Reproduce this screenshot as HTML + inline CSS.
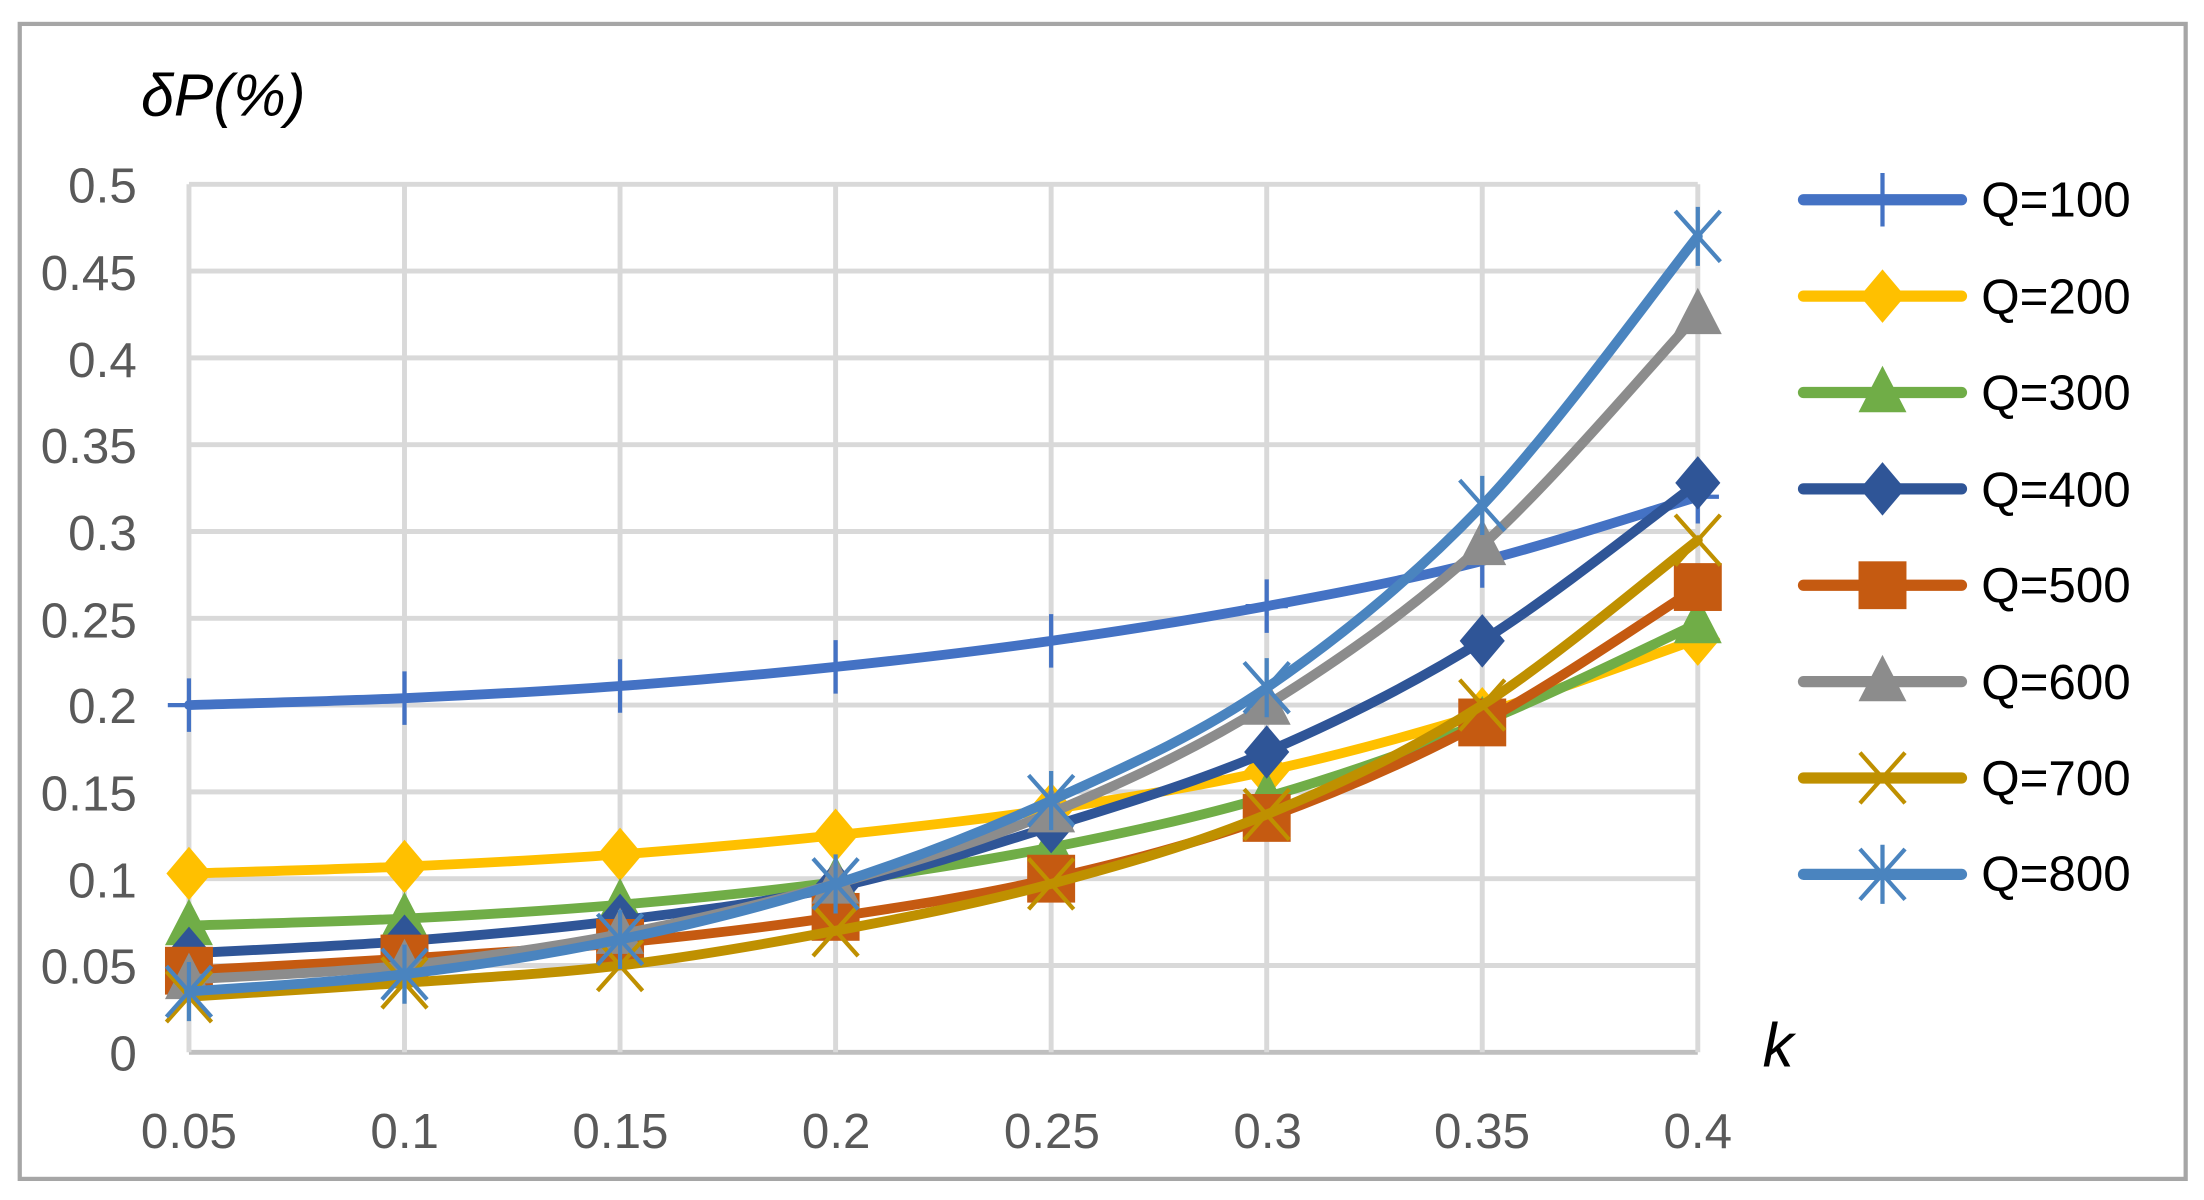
<!DOCTYPE html>
<html><head><meta charset="utf-8"><style>
html,body{margin:0;padding:0;background:#fff;}
svg{display:block;}
text{font-family:"Liberation Sans",sans-serif;fill:#595959;}
</style></head><body>
<svg id="s" width="2204" height="1200" viewBox="0 0 1563 853" preserveAspectRatio="none">
<rect x="14" y="17" width="1536" height="821" fill="#fff" stroke="#a6a6a6" stroke-width="3"/>
<g id="grid"></g>
<g font-size="35" text-anchor="end">
<text x="97" y="144">0.5</text>
<text x="97" y="206">0.45</text>
<text x="97" y="268">0.4</text>
<text x="97" y="329">0.35</text>
<text x="97" y="391">0.3</text>
<text x="97" y="453">0.25</text>
<text x="97" y="514">0.2</text>
<text x="97" y="576">0.15</text>
<text x="97" y="638">0.1</text>
<text x="97" y="699">0.05</text>
<text x="97" y="761">0</text>
</g>
<g font-size="35" text-anchor="middle">
<text x="134" y="816">0.05</text>
<text x="287" y="816">0.1</text>
<text x="440" y="816">0.15</text>
<text x="593" y="816">0.2</text>
<text x="746" y="816">0.25</text>
<text x="899" y="816">0.3</text>
<text x="1051" y="816">0.35</text>
<text x="1204" y="816">0.4</text>
</g>
<text x="100" y="82" font-size="42" font-style="italic" style="fill:#000">δP(%)</text>
<text x="1250" y="758" font-size="44" font-style="italic" style="fill:#000">k</text>
<g id="series"></g>
<g font-size="35">
<text x="1405" y="154" style="fill:#000">Q=100</text>
<text x="1405" y="223" style="fill:#000">Q=200</text>
<text x="1405" y="291" style="fill:#000">Q=300</text>
<text x="1405" y="360" style="fill:#000">Q=400</text>
<text x="1405" y="428" style="fill:#000">Q=500</text>
<text x="1405" y="497" style="fill:#000">Q=600</text>
<text x="1405" y="565" style="fill:#000">Q=700</text>
<text x="1405" y="633" style="fill:#000">Q=800</text>
</g>
</svg>
<script>
var NS="http://www.w3.org/2000/svg";
function el(p,t,a){var e=document.createElementNS(NS,t);for(var k in a)e.setAttribute(k,a[k]);p.appendChild(e);return e;}
var g=document.getElementById('grid'),sg=document.getElementById('series');
var X=function(i){return 134+i*152.86;},Y=function(v){return 748-v*1234;};
for(var i=0;i<=10;i++)el(g,'line',{x1:134,x2:1204,y1:Y(i*0.05),y2:Y(i*0.05),stroke:i==0?'#bfbfbf':'#d9d9d9','stroke-width':3.5});
for(var i=0;i<8;i++)el(g,'line',{x1:X(i),x2:X(i),y1:Y(0.5),y2:Y(0),stroke:'#d9d9d9','stroke-width':3.5});
var S=[
['#4472C4','plus',[0.2,0.204,0.211,0.222,0.237,0.257,0.283,0.32]],
['#FFC000','dia',[0.103,0.107,0.114,0.125,0.14,0.162,0.195,0.238]],
['#70AD47','tri',[0.073,0.077,0.085,0.098,0.118,0.147,0.19,0.247]],
['#2F5597','dia',[0.057,0.064,0.076,0.095,0.13,0.173,0.237,0.328]],
['#C55A11','sq',[0.047,0.054,0.063,0.078,0.1,0.135,0.19,0.268]],
['#8C8C8C','tri',[0.042,0.05,0.068,0.097,0.138,0.2,0.292,0.425]],
['#BF9000','x',[0.032,0.04,0.05,0.07,0.097,0.137,0.2,0.295]],
['#4A84BF','star',[0.035,0.045,0.065,0.097,0.145,0.21,0.315,0.47]]];
function marker(p,t,c,x,y){
 if(t=='plus'){el(p,'line',{x1:x,x2:x,y1:y-19,y2:y+19,stroke:c,'stroke-width':3});el(p,'line',{x1:x-15,x2:x+15,y1:y,y2:y,stroke:c,'stroke-width':3});}
 else if(t=='dia')el(p,'polygon',{points:(x)+','+(y-19)+' '+(x+16)+','+y+' '+x+','+(y+19)+' '+(x-16)+','+y,fill:c});
 else if(t=='tri')el(p,'polygon',{points:x+','+(y-19)+' '+(x+17)+','+(y+14)+' '+(x-17)+','+(y+14),fill:c});
 else if(t=='sq')el(p,'rect',{x:x-17,y:y-17,width:34,height:34,fill:c});
 else if(t=='x'){el(p,'path',{d:'M'+(x-16)+' '+(y-18)+'L'+(x+16)+' '+(y+18)+'M'+(x+16)+' '+(y-18)+'L'+(x-16)+' '+(y+18),stroke:c,'stroke-width':3});}
 else if(t=='star'){el(p,'path',{d:'M'+(x-16)+' '+(y-18)+'L'+(x+16)+' '+(y+18)+'M'+(x+16)+' '+(y-18)+'L'+(x-16)+' '+(y+18)+'M'+x+' '+(y-21)+'L'+x+' '+(y+21),stroke:c,'stroke-width':3});}
}
S.forEach(function(s,k){
 var P=s[2].map(function(v,i){return [X(i),Y(v)];});
 var d='M'+P[0][0]+' '+P[0][1];
 for(var i=0;i<P.length-1;i++){var p0=P[Math.max(0,i-1)],p1=P[i],p2=P[i+1],p3=P[Math.min(P.length-1,i+2)];
  d+='C'+(p1[0]+(p2[0]-p0[0])/6)+' '+(p1[1]+(p2[1]-p0[1])/6)+' '+(p2[0]-(p3[0]-p1[0])/6)+' '+(p2[1]-(p3[1]-p1[1])/6)+' '+p2[0]+' '+p2[1];}
 el(sg,'path',{d:d,fill:'none',stroke:s[0],'stroke-width':7,'stroke-linecap':'round'});
 P.forEach(function(p){marker(sg,s[1],s[0],p[0],p[1]);});
 var ly=142+k*68.5;
 el(sg,'line',{x1:1279,x2:1391,y1:ly,y2:ly,stroke:s[0],'stroke-width':8,'stroke-linecap':'round'});
 marker(sg,s[1],s[0],1335,ly);
});
</script>
</body></html>
